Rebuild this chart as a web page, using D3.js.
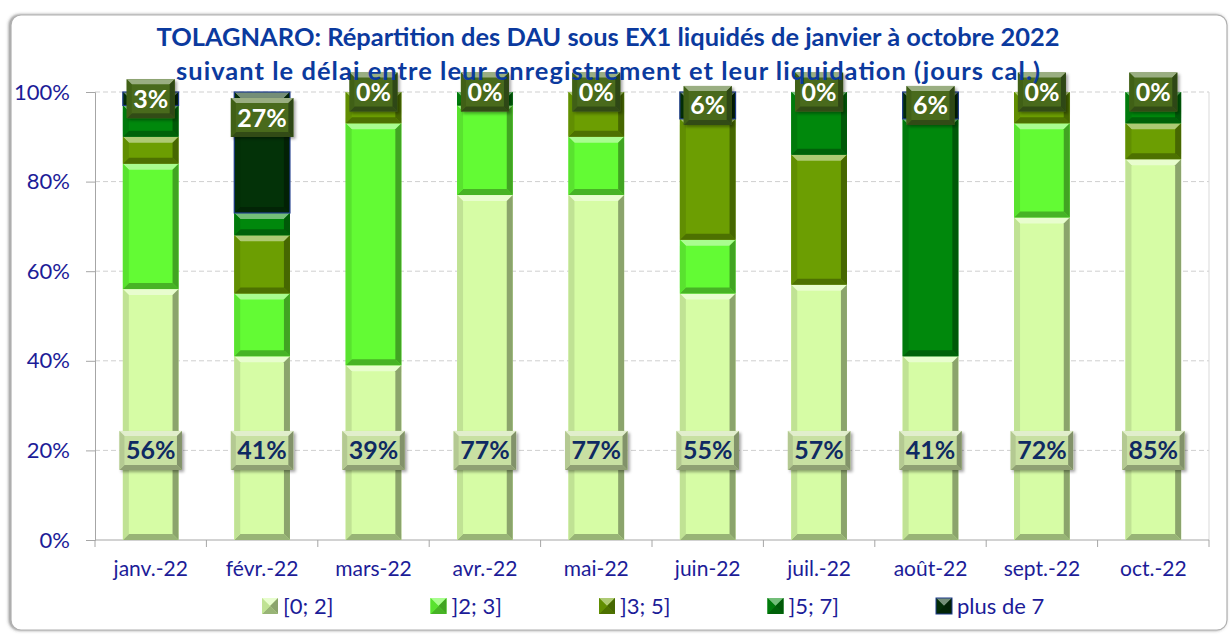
<!DOCTYPE html>
<html>
<head>
<meta charset="utf-8">
<script src="https://cdn.jsdelivr.net/npm/d3@7"></script>
<style>
  body { margin: 0; background: #fff; }
  svg { display: block; font-family: Lato, "Open Sans", sans-serif; }
</style>
</head>
<body>
<svg id="chart" width="1231" height="634"></svg>
<script>
// --- Data (percent of DAU per delay class, per month) ------------------
const months = ["janv.-22", "févr.-22", "mars-22", "avr.-22", "mai-22",
                "juin-22", "juil.-22", "août-22", "sept.-22", "oct.-22"];
const seriesNames = ["[0; 2]", "]2; 3]", "]3; 5]", "]5; 7]", "plus de 7"];
const delay0to2 = [56, 41, 39, 77, 77, 55, 57, 41, 72, 85];
const delay2to3 = [28, 14, 54, 20, 13, 12, 0, 0, 21, 0];
const delay3to5 = [6, 13, 7, 0, 10, 27, 29, 0, 7, 8];
const delay5to7 = [7, 5, 0, 3, 0, 0, 14, 53, 0, 7];
const delayOver7 = [3, 27, 0, 0, 0, 6, 0, 6, 0, 0];
const yTicks = [0, 0.2, 0.4, 0.6, 0.8, 1];

const titleLine1 = ["TOLAGNARO", ": Répartition des DAU sous EX1 liquidés de janvier à octobre 2022"];
const titleLine2 = "suivant le délai entre leur enregistrement et leur liquidation (jours cal.)";

// --- Styles ---------------------------------------------------------------
const faceColors = ["#d6fca5", "#63fb34", "#6c9e02", "#00880c", "#033208"];
const navy = "#1c1c98";
const titleBlue = "#0b3a9e";

const plot = {left: 95, right: 1209, top: 92, bottom: 540};

const svg = d3.select("#chart");
const defs = svg.append("defs");

const shadow = defs.append("filter").attr("id", "lblShadow")
  .attr("x", "-20%").attr("y", "-20%").attr("width", "150%").attr("height", "150%");
shadow.append("feDropShadow").attr("dx", 2).attr("dy", 2)
  .attr("stdDeviation", 1.5).attr("flood-color", "#000").attr("flood-opacity", 0.35);

const frameShadow = defs.append("filter").attr("id", "frameShadow")
  .attr("x", "-5%").attr("y", "-5%").attr("width", "110%").attr("height", "110%");
frameShadow.append("feDropShadow").attr("dx", -1.5).attr("dy", 0)
  .attr("stdDeviation", 1.8).attr("flood-color", "#444").attr("flood-opacity", 0.65);

// outer chart frame
svg.append("rect")
  .attr("x", 11).attr("y", 15).attr("width", 1216).attr("height", 615)
  .attr("rx", 10)
  .attr("fill", "#fff").attr("stroke", "#b0b0b0").attr("stroke-width", 1.2)
  .attr("filter", "url(#frameShadow)");

// --- Scales ---------------------------------------------------------------
const x = d3.scaleBand()
  .domain(months)
  .range([plot.left, plot.right])
  .paddingInner(0.5)
  .paddingOuter(0.25);

const y = d3.scaleLinear()
  .domain([0, 1])
  .range([plot.bottom, plot.top]);

// gridlines
svg.append("g").selectAll("line")
  .data(yTicks.filter(t => t > 0))
  .join("line")
  .attr("x1", plot.left).attr("x2", plot.right)
  .attr("y1", d => y(d)).attr("y2", d => y(d))
  .attr("stroke", "#cfcfcf").attr("stroke-dasharray", "5,3");

// plot area right border
svg.append("line")
  .attr("x1", plot.right).attr("x2", plot.right)
  .attr("y1", plot.top).attr("y2", plot.bottom)
  .attr("stroke", "#d9d9d9");

// --- Y axis ---------------------------------------------------------------
const yAxis = svg.append("g")
  .attr("transform", `translate(${plot.left},0)`)
  .call(d3.axisLeft(y).tickValues(yTicks).tickFormat(d3.format(".0%"))
    .tickSize(9).tickPadding(16));
yAxis.select(".domain").attr("stroke", "#a6a6a6");
yAxis.selectAll(".tick line").attr("stroke", "#a6a6a6");
yAxis.selectAll("text")
  .attr("fill", navy).style("font-size", "22px")
  .style("font-family", "Lato, sans-serif");

// --- X axis ---------------------------------------------------------------
const xAxis = svg.append("g")
  .attr("transform", `translate(0,${plot.bottom})`)
  .call(d3.axisBottom(x).tickSize(0).tickPadding(21));
xAxis.select(".domain").attr("stroke", "#a6a6a6").attr("d", `M${plot.left},0H${plot.right}`);
xAxis.selectAll("text")
  .attr("fill", navy).style("font-size", "21px")
  .style("font-family", "Lato, sans-serif");

// boundary ticks between categories
const boundaries = months.map(m => x(m) - x.step() * x.paddingInner() / 2)
  .concat([plot.right]);
boundaries[0] = plot.left;
svg.append("g").selectAll("line")
  .data(boundaries)
  .join("line")
  .attr("x1", d => d).attr("x2", d => d)
  .attr("y1", plot.bottom).attr("y2", plot.bottom + 7)
  .attr("stroke", "#a6a6a6");

// --- Bevel helper -----------------------------------------------------------
function bevelRect(g, x0, y0, w, h, face, b) {
  const c = d3.color(face);
  const top = d3.interpolateRgb(face, "#ffffff")(0.45);
  const left = c.darker(0.3).formatHex();
  const right = c.darker(1.2).formatHex();
  const bottom = c.darker(0.95).formatHex();
  const x1 = x0 + w, y1 = y0 + h;
  g.append("rect").attr("x", x0).attr("y", y0).attr("width", w).attr("height", h)
    .attr("fill", face);
  const polys = [
    [[x0, y0], [x1, y0], [x1 - b, y0 + b], [x0 + b, y0 + b], top],
    [[x0, y1], [x1, y1], [x1 - b, y1 - b], [x0 + b, y1 - b], bottom],
    [[x0, y0], [x0 + b, y0 + b], [x0 + b, y1 - b], [x0, y1], left],
    [[x1, y0], [x1 - b, y0 + b], [x1 - b, y1 - b], [x1, y1], right]
  ];
  polys.forEach(p => {
    g.append("polygon")
      .attr("points", p.slice(0, 4).map(q => q.join(",")).join(" "))
      .attr("fill", p[4]);
  });
}

// --- Stacked bars -----------------------------------------------------------
const keys = ["d0", "d1", "d2", "d3", "d4"];
const rows = months.map((m, i) => ({
  month: m,
  d0: delay0to2[i] / 100,
  d1: delay2to3[i] / 100,
  d2: delay3to5[i] / 100,
  d3: delay5to7[i] / 100,
  d4: delayOver7[i] / 100
}));
const stacked = d3.stack().keys(keys)(rows);

const bars = svg.append("g");
stacked.forEach((layer, li) => {
  layer.forEach(d => {
    const yt = y(d[1]), yb = y(d[0]);
    const h = yb - yt;
    if (h < 0.5) return;
    const g = bars.append("g");
    const x0 = x(d.data.month), w = x.bandwidth();
    bevelRect(g, x0, yt, w, h, faceColors[li], Math.min(6, h / 2, w / 2));
    if (li === 4) {
      g.append("rect").attr("x", x0).attr("y", yt).attr("width", w).attr("height", h)
        .attr("fill", "none").attr("stroke", "#1f3d8c").attr("stroke-width", 1.2);
    }
  });
});

// --- Data labels ------------------------------------------------------------
function label(g, cx, cy, txt, face, textColor) {
  const t = g.append("text")
    .attr("x", cx).attr("y", cy).attr("dy", "0.36em")
    .attr("text-anchor", "middle")
    .attr("fill", textColor)
    .style("font-size", "25px").style("font-weight", "bold")
    .text(txt);
  const tw = t.node().getComputedTextLength();
  const bw = tw + 13, bh = 39;
  const box = g.insert("g", "text").attr("filter", "url(#lblShadow)");
  bevelRect(box, cx - bw / 2, cy - bh / 2, bw, bh, face, 5);
}

const labels = svg.append("g");
// bottom labels for [0; 2]
stacked[0].forEach(d => {
  const g = labels.append("g");
  label(g, x(d.data.month) + x.bandwidth() / 2, y(0.2),
        Math.round(d[1] * 100) + "%", "#c8e0a2", "#0f2a62");
});
// top labels for "plus de 7"
stacked[4].forEach(d => {
  const g = labels.append("g");
  const yt = y(d[1]), yb = y(d[0]);
  const bh = 39, pad = 6;
  const cy = (yb - yt) >= bh + 2 * pad ? yt + pad + bh / 2 : (yt + yb) / 2;
  label(g, x(d.data.month) + x.bandwidth() / 2, cy,
        Math.round((d[1] - d[0]) * 100) + "%", "#486b1c", "#ffffff");
});

// --- Title ------------------------------------------------------------------
const title = svg.append("g")
  .style("font-weight", "bold").attr("fill", titleBlue)
  .attr("text-anchor", "middle");
const t1 = title.append("text").attr("x", 608).attr("y", 46);
t1.append("tspan").text(titleLine1[0]);
t1.append("tspan").text(titleLine1[1]);
const t2 = title.append("text").attr("x", 608).attr("y", 80).text(titleLine2);
title.style("font-size", "24px");
const scale1 = 903 / t1.node().getComputedTextLength();
title.style("font-size", (24 * scale1).toFixed(2) + "px");
// second line is wider in the original font: stretch spacing a little
t2.attr("textLength", 864).attr("lengthAdjust", "spacing");

// --- Legend -----------------------------------------------------------------
const legend = svg.append("g");
seriesNames.forEach((name, i) => {
  const lx = 262 + i * 168.5;
  const g = legend.append("g");
  bevelRect(g, lx, 598, 16, 16, faceColors[i], 8);
  if (i === 4) {
    g.append("rect").attr("x", lx).attr("y", 598).attr("width", 16).attr("height", 16)
      .attr("fill", "none").attr("stroke", "#1f3d8c");
  }
  g.append("text")
    .attr("x", lx + 21).attr("y", 614)
    .attr("fill", navy).style("font-size", "22px")
    .text(name);
});
</script>
</body>
</html>
